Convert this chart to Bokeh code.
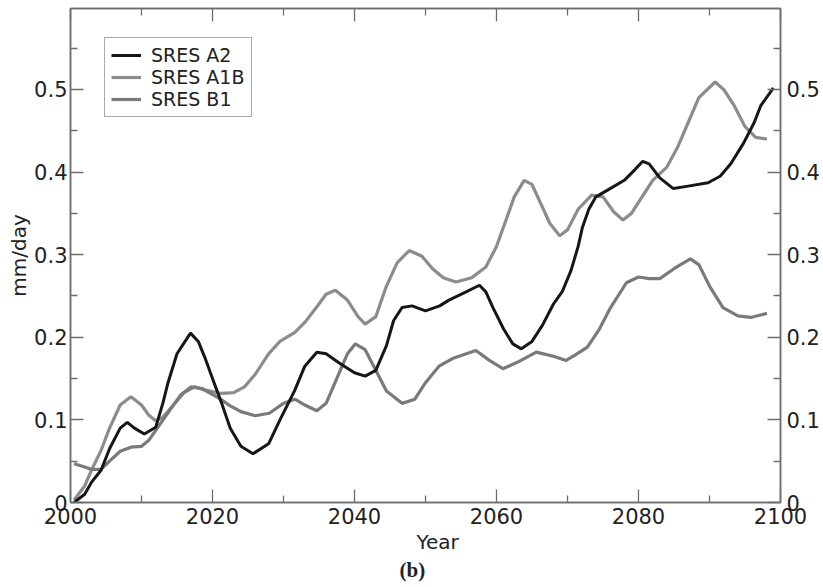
from bokeh.plotting import figure
from bokeh.models import Range1d, LinearAxis, FixedTicker, Title
from bokeh.embed import file_html
from bokeh.resources import INLINE

years_a2 = [2000.5, 2002, 2003, 2004.3, 2005.5, 2007, 2008, 2009, 2010.4, 2012, 2013, 2013.7,
            2015, 2016.9, 2018, 2018.9, 2020, 2021.3, 2022.5, 2024, 2025.7, 2027.9, 2029.5,
            2031.6, 2033, 2034.7, 2036, 2038, 2040, 2041.5, 2043, 2044.5, 2045.5, 2046.7,
            2048.1, 2050, 2052, 2053.3, 2055.5, 2057.6, 2058.5, 2059.5, 2061, 2062.3, 2063.5,
            2065, 2066.5, 2068, 2069.3, 2070.5, 2071.5, 2072.1, 2073, 2074, 2076, 2078,
            2079.5, 2080.6, 2081.5, 2083, 2084.9, 2087, 2089.8, 2091.5, 2093, 2094.8, 2096.3,
            2097.2, 2099]
vals_a2 = [0.0, 0.01, 0.025, 0.039, 0.065, 0.09, 0.097, 0.09, 0.083, 0.091, 0.12, 0.144,
           0.18, 0.205, 0.195, 0.176, 0.15, 0.12, 0.09, 0.068, 0.059, 0.071, 0.1,
           0.136, 0.165, 0.182, 0.18, 0.168, 0.157, 0.153, 0.16, 0.19, 0.22, 0.236,
           0.238, 0.232, 0.238, 0.245, 0.254, 0.263, 0.255, 0.236, 0.21, 0.192, 0.186,
           0.195, 0.215, 0.24, 0.256, 0.281, 0.31, 0.333, 0.355, 0.37, 0.38, 0.39,
           0.403, 0.413, 0.41, 0.393, 0.38, 0.383, 0.387, 0.395, 0.41, 0.435, 0.46,
           0.48, 0.502]

years_a1b = [2000.5, 2002, 2003, 2004.3, 2005.5, 2007, 2008.5, 2010, 2011, 2012, 2013, 2014.5,
             2016, 2017.5, 2019, 2021.3, 2023, 2024.5, 2026, 2027.9, 2029.5, 2031.6, 2033,
             2034.7, 2036, 2037.3, 2039, 2040.5, 2041.5, 2043, 2044.5, 2046, 2047.7, 2049.5,
             2051, 2052.5, 2054.3, 2056.5, 2058.5, 2060, 2061.3, 2062.5, 2063.9, 2065,
             2066.5, 2067.5, 2068.9, 2070, 2071.5, 2073.4, 2075, 2076.5, 2077.8, 2079,
             2080.5, 2082, 2084, 2085.5, 2087, 2088.5, 2090.8, 2092, 2093.5, 2095, 2096.5,
             2098.1]
vals_a1b = [0.003, 0.02, 0.04, 0.063, 0.09, 0.118, 0.128, 0.118, 0.106, 0.099, 0.103, 0.118,
            0.133, 0.14, 0.136, 0.132, 0.133, 0.14, 0.155, 0.18, 0.195, 0.206, 0.218,
            0.237, 0.252, 0.257, 0.245, 0.225, 0.216, 0.225, 0.262, 0.29, 0.305, 0.298,
            0.283, 0.272, 0.267, 0.272, 0.285, 0.31, 0.341, 0.37, 0.39, 0.385,
            0.357, 0.338, 0.323, 0.33, 0.355, 0.372, 0.37, 0.352, 0.342, 0.35,
            0.37, 0.39, 0.406, 0.43, 0.46, 0.49, 0.509, 0.5, 0.48, 0.455, 0.442,
            0.44]

years_b1 = [2000.5, 2002, 2003, 2004.3, 2005.5, 2007, 2008.5, 2010, 2011, 2012.3, 2014, 2015.5,
            2017, 2018.5, 2020.8, 2022.5, 2024, 2026, 2028, 2030, 2031.6, 2033, 2034.7, 2036,
            2037.5, 2039, 2040.1, 2041.5, 2043, 2044.5, 2046.7, 2048.5, 2050, 2051.9, 2054,
            2057.1, 2059, 2060.9, 2063, 2065.6, 2068, 2069.8, 2071, 2072.8, 2074.5, 2076,
            2078.3, 2080, 2081.5, 2083, 2085, 2087.3, 2088.5, 2090, 2091.9, 2094, 2095.8,
            2098.1]
vals_b1 = [0.047, 0.043, 0.04, 0.04, 0.05, 0.062, 0.067, 0.068, 0.075, 0.091, 0.112, 0.13,
           0.14, 0.138, 0.127, 0.117, 0.11, 0.105, 0.108, 0.12, 0.125, 0.118, 0.111, 0.12,
           0.15, 0.18, 0.192, 0.185, 0.16, 0.135, 0.12, 0.125, 0.145, 0.165, 0.175,
           0.184, 0.172, 0.162, 0.17, 0.182, 0.177, 0.172, 0.178, 0.188, 0.21, 0.235,
           0.266, 0.273, 0.271, 0.271, 0.283, 0.295, 0.288, 0.262, 0.236, 0.226, 0.224,
           0.229]

series_names = ["SRES A2", "SRES A1B", "SRES B1"]
x_major = [2000, 2020, 2040, 2060, 2080, 2100]
x_minor = [2010, 2030, 2050, 2070, 2090]
y_major = [0, 0.1, 0.2, 0.3, 0.4, 0.5]
y_minor = [0.05, 0.15, 0.25, 0.35, 0.45, 0.55]

AX = "#6e6e6e"
TXT = "#222222"
FONT = "DejaVu Sans"

p = figure(width=823, height=587, output_backend="svg", toolbar_location=None,
           x_range=Range1d(2000, 2100), y_range=Range1d(0, 0.598),
           min_border_left=70, min_border_right=43, min_border_top=8, min_border_bottom=85,
           y_axis_label="mm/day")
p.background_fill_color = "white"
p.border_fill_color = "white"
p.outline_line_color = AX
p.outline_line_width = 1.5
p.xgrid.visible = False
p.ygrid.visible = False

r_a2 = p.line(years_a2, vals_a2, line_color="#161616", line_width=3, legend_label=series_names[0])
r_a1b = p.line(years_a1b, vals_a1b, line_color="#8c8c8c", line_width=3.2, legend_label=series_names[1])
r_b1 = p.line(years_b1, vals_b1, line_color="#7a7a7a", line_width=3.2, legend_label=series_names[2])
p.renderers = [r_a1b, r_b1, r_a2]


def style_axis(ax, standoff=5):
    ax.axis_line_color = AX
    ax.axis_line_width = 1.5
    ax.major_tick_line_color = AX
    ax.minor_tick_line_color = AX
    ax.major_tick_line_width = 1.3
    ax.minor_tick_line_width = 1.3
    ax.major_tick_in = 13
    ax.major_tick_out = 0
    ax.minor_tick_in = 7
    ax.minor_tick_out = 0
    ax.major_label_text_font = FONT
    ax.major_label_text_font_size = "21px"
    ax.major_label_text_color = TXT
    ax.major_label_standoff = standoff
    ax.axis_label_text_font = FONT
    ax.axis_label_text_font_size = "20px"
    ax.axis_label_text_font_style = "normal"
    ax.axis_label_text_color = TXT


xt = FixedTicker(ticks=x_major, minor_ticks=x_minor)
yt = FixedTicker(ticks=y_major, minor_ticks=y_minor)

p.xaxis.ticker = xt
p.yaxis.ticker = yt
style_axis(p.xaxis[0], standoff=5)
style_axis(p.yaxis[0], standoff=3)
p.yaxis[0].axis_label_standoff = 0

ry = LinearAxis(ticker=yt)
style_axis(ry, standoff=6)
p.add_layout(ry, "right")

tx = LinearAxis(ticker=xt)
style_axis(tx, standoff=0)
tx.major_label_overrides = {t: "" for t in x_major}
tx.major_label_text_font_size = "1px"
p.add_layout(tx, "above")

p.add_layout(Title(text="Year", align="left", offset=346, standoff=2,
                   text_font=FONT, text_font_size="20px", text_font_style="normal",
                   text_color=TXT), "below")
p.add_layout(Title(text="(b)", align="left", offset=329, standoff=3,
                   text_font="Liberation Serif", text_font_size="21px",
                   text_font_style="bold", text_color=TXT), "below")

lg = p.legend[0]
lg.location = (34, 385)
lg.border_line_color = "#555555"
lg.border_line_width = 1.2
lg.background_fill_alpha = 1.0
lg.label_text_font = FONT
lg.label_text_font_size = "19px"
lg.label_text_line_height = 1.0
lg.label_text_color = TXT
lg.glyph_width = 30
lg.glyph_height = 16
lg.label_height = 16
lg.label_standoff = 10
lg.spacing = 0
lg.padding = 6
lg.margin = 0

open("out.html", "w").write(file_html(p, INLINE))
